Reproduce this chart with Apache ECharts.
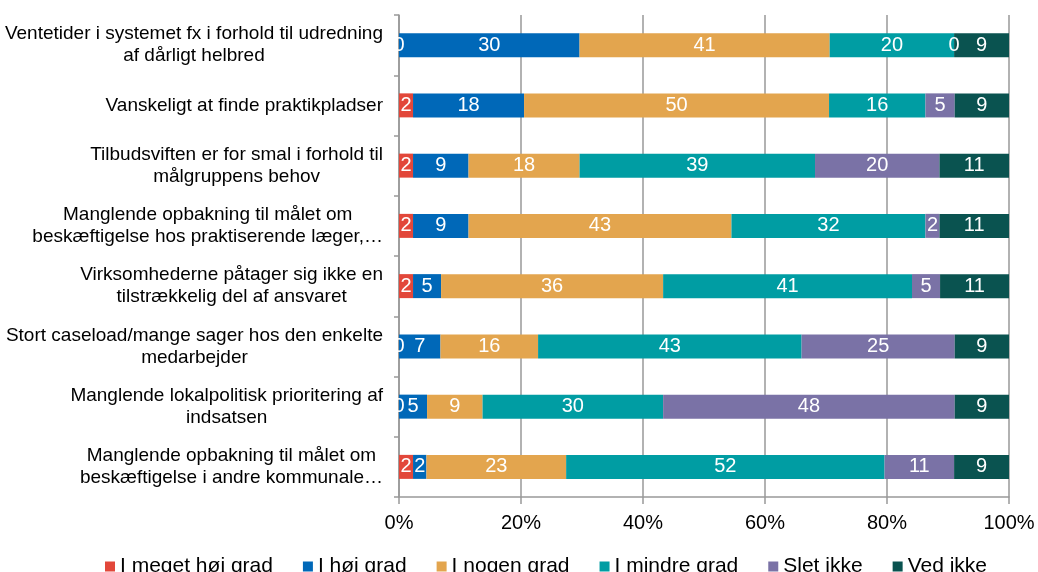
<!DOCTYPE html>
<html>
<head>
<meta charset="utf-8">
<script src="https://cdn.jsdelivr.net/npm/echarts@6/dist/echarts.min.js"></script>
<style>
html, body { margin: 0; padding: 0; background: #fff; }
#chartBox { width: 1038px; height: 572px; }
</style>
</head>
<body>
<div id="chartBox"></div>
<script>
// kategorier (top -> bund)
let categories = [
    'Ventetider i systemet fx i forhold til udredning\naf dårligt helbred',
    'Vanskeligt at finde praktikpladser',
    'Tilbudsviften er for smal i forhold til\nmålgruppens behov',
    'Manglende opbakning til målet om\nbeskæftigelse hos praktiserende læger,…',
    'Virksomhederne påtager sig ikke en\ntilstrækkelig del af ansvaret',
    'Stort caseload/mange sager hos den enkelte\nmedarbejder',
    'Manglende lokalpolitisk prioritering af\nindsatsen',
    'Manglende opbakning til målet om\nbeskæftigelse i andre kommunale…'
];
let seriesNames = ['I meget høj grad', 'I høj grad', 'I nogen grad', 'I mindre grad', 'Slet ikke', 'Ved ikke'];
// andele i procent
let megetHoej = [0, 2.3, 2.3, 2.3, 2.3, 0, 0, 2.3];
let hoej      = [29.6, 18.2, 9.1, 9.1, 4.6, 6.8, 4.6, 2.2];
let nogen     = [41, 50, 18.2, 43.1, 36.4, 16, 9.1, 22.9];
let mindre    = [20.4, 15.8, 38.6, 31.8, 40.8, 43.2, 29.6, 52.2];
let sletIkke  = [0, 4.8, 20.4, 2.3, 4.6, 25.1, 47.8, 11.4];
let vedIkke   = [9, 8.9, 11.4, 11.4, 11.3, 8.9, 8.9, 9];
let xTicks = [0, 20, 40, 60, 80, 100];

let colors = ['#E2473A', '#0068B8', '#E3A54E', '#009DA3', '#7A72A6', '#0A5350'];
let values = [megetHoej, hoej, nogen, mindre, sletIkke, vedIkke];
let fontFam = '"Liberation Sans", Arial, sans-serif';

let chartBox = echarts.init(document.getElementById('chartBox'));
let series = seriesNames.map(function (name, i) {
    return {
        name: name, type: 'bar', stack: 'total', barWidth: 24,
        itemStyle: {color: colors[i]},
        label: {
            show: true, position: 'inside', color: '#ffffff', fontSize: 20, fontFamily: fontFam,
            formatter: function (p) { return Math.round(p.value); }
        },
        data: values[i]
    };
});

let option = {
    animation: false,
    grid: {left: 399, right: 29, top: 15, bottom: 75},
    legend: {
        data: seriesNames, left: 100, top: 551, icon: 'rect',
        itemWidth: 10, itemHeight: 10, itemGap: 30,
        textStyle: {fontSize: 21, color: '#000', fontFamily: fontFam}
    },
    xAxis: {
        type: 'value', min: xTicks[0], max: xTicks[xTicks.length - 1], interval: 20,
        axisLabel: {formatter: '{value}%', fontSize: 20, color: '#000', fontFamily: fontFam, margin: 16},
        axisLine: {show: true, lineStyle: {color: '#999', width: 1.5}},
        axisTick: {show: true, length: 7, lineStyle: {color: '#999', width: 1.5}},
        splitLine: {show: true, lineStyle: {color: '#999', width: 1.5}}
    },
    yAxis: {
        type: 'category', inverse: true, data: categories,
        axisLine: {show: true, lineStyle: {color: '#999', width: 1.5}},
        axisTick: {show: true, length: 5, lineStyle: {color: '#999', width: 1.5}},
        axisLabel: {
            margin: 16, fontSize: 19, lineHeight: 22, color: '#000', fontFamily: fontFam,
            formatter: function (v) {
                return v.split('\n').map(function (s) { return '{c|' + s + '}'; }).join('\n');
            },
            rich: {c: {align: 'center', fontSize: 19, lineHeight: 22, color: '#000', fontFamily: fontFam}}
        }
    },
    series: series
};
chartBox.setOption(option, true);
</script>
</body>
</html>
